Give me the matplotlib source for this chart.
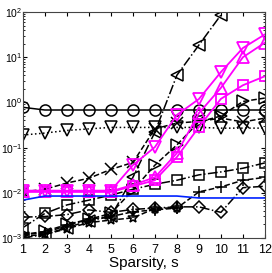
import numpy as np
import matplotlib
matplotlib.use('Agg')
import matplotlib.pyplot as plt

plt.rcParams['font.family'] = ['Liberation Sans', 'DejaVu Sans']
plt.rcParams['mathtext.default'] = 'regular'

nan = np.nan
s = np.arange(1, 13)

# black series
circ = [0.78, 0.68, 0.68, 0.68, 0.68, 0.68, 0.68, 0.68, 0.68, 0.68, 0.68, 0.68]
dtri = [0.19, 0.21, 0.24, 0.26, 0.28, 0.28, 0.28, 0.28, 0.28, 0.27, 0.27, 0.27]
ltri = [0.0010, 0.0012, 0.0017, 0.0024, 0.0030, 0.022, 0.22, 4.0, 18.6, 86, nan, nan]
rtri = [0.0012, 0.0014, 0.0020, 0.0026, 0.0035, 0.0115, 0.041, 0.115, 0.37, 0.5, 1.05, 1.25]
xmk = [0.0105, 0.012, 0.0165, 0.021, 0.033, 0.047, 0.26, 0.35, 0.38, 0.45, 0.37, 0.45]
plus = [0.0012, 0.0013, 0.0019, 0.0026, 0.0030, 0.0038, 0.0042, 0.0046, 0.0105, 0.0135, 0.019, 0.022]
sq = [0.0017, 0.0035, 0.0054, 0.0069, 0.0089, 0.012, 0.0155, 0.019, 0.025, 0.029, 0.035, 0.046]
diam = [0.0029, 0.0030, 0.0033, 0.0042, 0.0037, 0.0043, 0.0046, 0.0049, 0.0049, 0.0037, 0.013, 0.014]
star = [0.0011, 0.0012, 0.0016, 0.0022, 0.0025, 0.0028, 0.0045, 0.0047, nan, nan, nan, nan]
# magenta series
m_dtri = [0.0112, 0.0112, 0.0112, 0.0112, 0.0112, 0.041, 0.103, 0.53, 1.19, 4.7, 16, 32]
m_utri = [0.0108, 0.0108, 0.0108, 0.0108, 0.0108, 0.015, 0.022, 0.076, 0.58, 2.1, 10, 21]
m_sq = [0.0105, 0.0105, 0.0105, 0.0105, 0.0105, 0.014, 0.019, 0.062, 0.286, 1.2, 2.4, 3.8]
# blue line
blue = [0.0069, 0.0085, 0.0085, 0.0085, 0.0085, 0.0085, 0.0085, 0.0085, 0.0077, 0.0077, 0.0077, 0.0077]

fig = plt.figure(figsize=(2.72, 2.73), dpi=100)
ax = fig.add_axes([0.084, 0.128, 0.890, 0.828])

kw = dict(color='k', lw=1.1, mfc='none', mec='k', mew=1.1, ms=8)
ax.plot(s, circ, 'o-', **kw)
ax.plot(s, dtri, 'v:', **kw)
ax.plot(s, ltri, '<-.', **kw)
ax.plot(s, rtri, '>--', **kw)
ax.plot(s, xmk, 'x--', **kw)
ax.plot(s, plus, '+--', **kw)
ax.plot(s, sq, 's-.', ms=7, color='k', lw=1.1, mfc='none', mec='k', mew=1.1)
ax.plot(s, diam, 'D-.', ms=6.5, color='k', lw=1.1, mfc='none', mec='k', mew=1.1)
ax.plot(s, star, '*--', **kw)

mkw = dict(color='#ff00ff', lw=1.3, mfc='none', mec='#ff00ff', mew=1.3, ms=9)
ax.plot(s, m_dtri, 'v-', **mkw)
ax.plot(s, m_utri, '^-', **mkw)
ax.plot(s, m_sq, 's-', ms=7.5, color='#ff00ff', lw=1.3, mfc='none', mec='#ff00ff', mew=1.3)
ax.plot(s, blue, '-', color='#0022ff', lw=1.2)

ax.set_yscale('log')
ax.set_xlim(1, 12)
ax.set_ylim(1e-3, 1e2)
ax.set_xticks(s)
ax.tick_params(which='both', direction='in', top=True, right=True, labelsize=9, pad=4)
ax.tick_params(axis='y', labelsize=7.5, pad=0.5)
ax.tick_params(which='major', length=3)
ax.tick_params(which='minor', length=1.5)
for sp in ax.spines.values():
    sp.set_color('#444444')
ax.set_xlabel('Sparsity, s', fontsize=11, labelpad=0)

fig.savefig('out.png', dpi=100)
